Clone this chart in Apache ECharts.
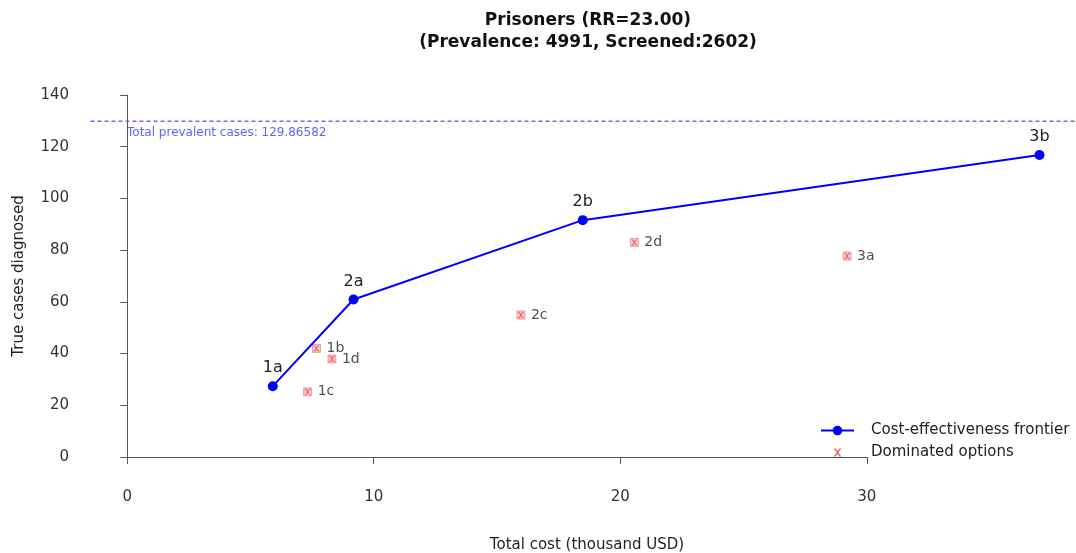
<!DOCTYPE html>
<html>
<head>
<meta charset="utf-8">
<script src="https://cdn.jsdelivr.net/npm/echarts@6/dist/echarts.min.js"></script>
<style>
html,body{margin:0;padding:0;background:#fff;}
#chart{width:1076px;height:553px;}
</style>
</head>
<body>
<div id="chart"></div>
<script>
// ---- data ----
var frontierLabels = ['1a', '2a', '2b', '3b'];
var frontierCost = [5.94, 9.23, 18.57, 37.18];
var frontierCases = [27.4, 60.9, 91.6, 116.8];

var dominatedLabels = ['1b', '1c', '1d', '2c', '2d', '3a'];
var dominatedCost = [7.72, 7.36, 8.35, 16.05, 20.67, 29.34];
var dominatedCases = [42.0, 25.2, 37.9, 54.9, 83.0, 77.7];

var totalPrevalent = 129.86582;
var xTicks = [0, 10, 20, 30];
var yTicks = [0, 20, 40, 60, 80, 100, 120, 140];

var titleText = 'Prisoners (RR=23.00)';
var subtitleText = '(Prevalence: 4991, Screened:2602)';
var xName = 'Total cost (thousand USD)';
var yName = 'True cases diagnosed';

var FONT = 'DejaVu Sans';

// ---- R-style plot region (xlim = c(0, max cost), ylim = c(0, 140), 4% padding) ----
var xLimLo = 0, xLimHi = Math.max.apply(null, frontierCost);
var yLimLo = yTicks[0], yLimHi = yTicks[yTicks.length - 1];
var xPad = (xLimHi - xLimLo) * 0.04, yPad = (yLimHi - yLimLo) * 0.04;
var xMin = xLimLo - xPad, xMax = xLimHi + xPad;
var yMin = yLimLo - yPad, yMax = yLimHi + yPad;

// main plot region in pixels
var PL = 90.5, PW = 990, PT = 80.5, PH = 391;
function px(x) { return PL + (x - xMin) / (xMax - xMin) * PW; }
function py(y) { return PT + (yMax - y) / (yMax - yMin) * PH; }
var axLeft = px(xTicks[0]), axRight = px(xTicks[xTicks.length - 1]);
var axTop = py(yTicks[yTicks.length - 1]), axBottom = py(yTicks[0]);

var chart = echarts.init(document.getElementById('chart'), null, {renderer: 'canvas'});

function pts(xs, ys, labels) {
  return xs.map(function (x, i) { return {value: [x, ys[i]], name: labels ? labels[i] : ''}; });
}

var crossPath = 'path://M0,0 L2,0 L5,3 L8,0 L10,0 L6,4 L6,6 L10,10 L8,10 L5,7 L2,10 L0,10 L4,6 L4,4 Z';
// same cross, padded inside a slightly larger invisible box so the legend icon stays small
var crossLegend = 'path://M0,0 L0.05,0 L0,0.05 Z M12,12 L11.95,12 L12,11.95 Z ' +
  'M2,2 L3.8,2 L6,4.6 L8.2,2 L10,2 L6.9,5.6 L6.9,6.4 L10,10 L8.2,10 L6,7.4 L3.8,10 L2,10 L5.1,6.4 L5.1,5.6 Z';

var option = {
  animation: false,
  backgroundColor: '#ffffff',
  title: {
    text: titleText + '\n' + subtitleText,
    left: 583,
    top: 5,
    textAlign: 'center',
    textStyle: {fontFamily: FONT, fontSize: 17, fontWeight: 'bold', color: '#111', lineHeight: 22}
  },
  graphic: [{
    type: 'text',
    x: 587, y: 545,
    style: {text: xName, fontFamily: FONT, fontSize: 15, fill: '#222', textAlign: 'center', textVerticalAlign: 'middle'}
  }],
  legend: {
    orient: 'vertical',
    left: 815,
    top: 418,
    itemWidth: 33,
    itemHeight: 12,
    itemGap: 7,
    textStyle: {fontFamily: FONT, fontSize: 15, color: '#222', padding: [0, 0, 0, 12]},
    data: [
      {name: 'Cost-effectiveness frontier'},
      {name: 'Dominated options', icon: crossLegend, itemStyle: {color: '#ff2020'}}
    ]
  },
  grid: [
    {left: PL, width: PW, top: PT, height: PH, containLabel: false},
    {left: axLeft, width: axRight - axLeft, top: axTop, height: axBottom - axTop, containLabel: false}
  ],
  xAxis: [
    {gridIndex: 0, type: 'value', min: xMin, max: xMax, show: false},
    {
      gridIndex: 1, type: 'value',
      min: xTicks[0], max: xTicks[xTicks.length - 1], interval: 10,
      offset: 13,
      splitLine: {show: false},
      axisLine: {show: true, lineStyle: {color: '#555', width: 1}},
      axisTick: {show: true, length: 7, lineStyle: {color: '#555'}},
      axisLabel: {fontFamily: FONT, fontSize: 15, color: '#333', margin: 20}
    }
  ],
  yAxis: [
    {gridIndex: 0, type: 'value', min: yMin, max: yMax, show: false},
    {
      gridIndex: 1, type: 'value',
      min: yTicks[0], max: yTicks[yTicks.length - 1], interval: 20,
      offset: 36,
      name: yName,
      nameLocation: 'middle',
      nameGap: 65,
      nameTextStyle: {fontFamily: FONT, fontSize: 15, color: '#222'},
      splitLine: {show: false},
      axisLine: {show: true, lineStyle: {color: '#555', width: 1}},
      axisTick: {show: true, length: 7, lineStyle: {color: '#555'}},
      axisLabel: {fontFamily: FONT, fontSize: 15, color: '#333', margin: 22}
    }
  ],
  series: [
    {
      name: 'Total prevalent',
      type: 'line',
      xAxisIndex: 0, yAxisIndex: 0,
      silent: true,
      symbol: 'none',
      data: [[xMin, totalPrevalent], [xMax, totalPrevalent]],
      lineStyle: {color: '#6a6aff', width: 1.5, type: [4, 3]},
      z: 1
    },
    {
      name: 'Total prevalent label',
      type: 'scatter',
      xAxisIndex: 0, yAxisIndex: 0,
      silent: true,
      symbolSize: 0,
      data: [[xLimLo, totalPrevalent]],
      label: {
        show: true,
        position: [0, 6],
        align: 'left',
        verticalAlign: 'top',
        fontFamily: FONT, fontSize: 12, color: '#3a3af0',
        formatter: function () { return 'Total prevalent cases: ' + totalPrevalent.toFixed(5); }
      }
    },
    {
      name: 'Dominated box',
      type: 'scatter',
      xAxisIndex: 0, yAxisIndex: 0,
      symbol: 'rect',
      symbolSize: 8,
      itemStyle: {color: 'rgba(235,140,140,0.55)', borderColor: 'rgba(220,90,90,0.8)', borderWidth: 0.8},
      data: pts(dominatedCost, dominatedCases, dominatedLabels),
      z: 2
    },
    {
      name: 'Dominated options',
      type: 'scatter',
      xAxisIndex: 0, yAxisIndex: 0,
      symbol: crossPath,
      symbolSize: 6,
      itemStyle: {color: '#ff2020'},
      data: pts(dominatedCost, dominatedCases, dominatedLabels),
      label: {
        show: true, position: 'right', distance: 7,
        formatter: function (p) { return p.name; },
        fontFamily: FONT, fontSize: 14, color: '#222'
      },
      z: 3
    },
    {
      name: 'Cost-effectiveness frontier',
      type: 'line',
      xAxisIndex: 0, yAxisIndex: 0,
      symbol: 'circle',
      symbolSize: 10,
      itemStyle: {color: '#0000ff'},
      lineStyle: {color: '#0000ff', width: 2},
      data: pts(frontierCost, frontierCases, frontierLabels),
      label: {
        show: true, position: 'top', distance: 5,
        formatter: function (p) { return p.name; },
        fontFamily: FONT, fontSize: 16, color: '#222'
      },
      z: 4
    }
  ]
};
chart.setOption(option);
</script>
</body>
</html>
